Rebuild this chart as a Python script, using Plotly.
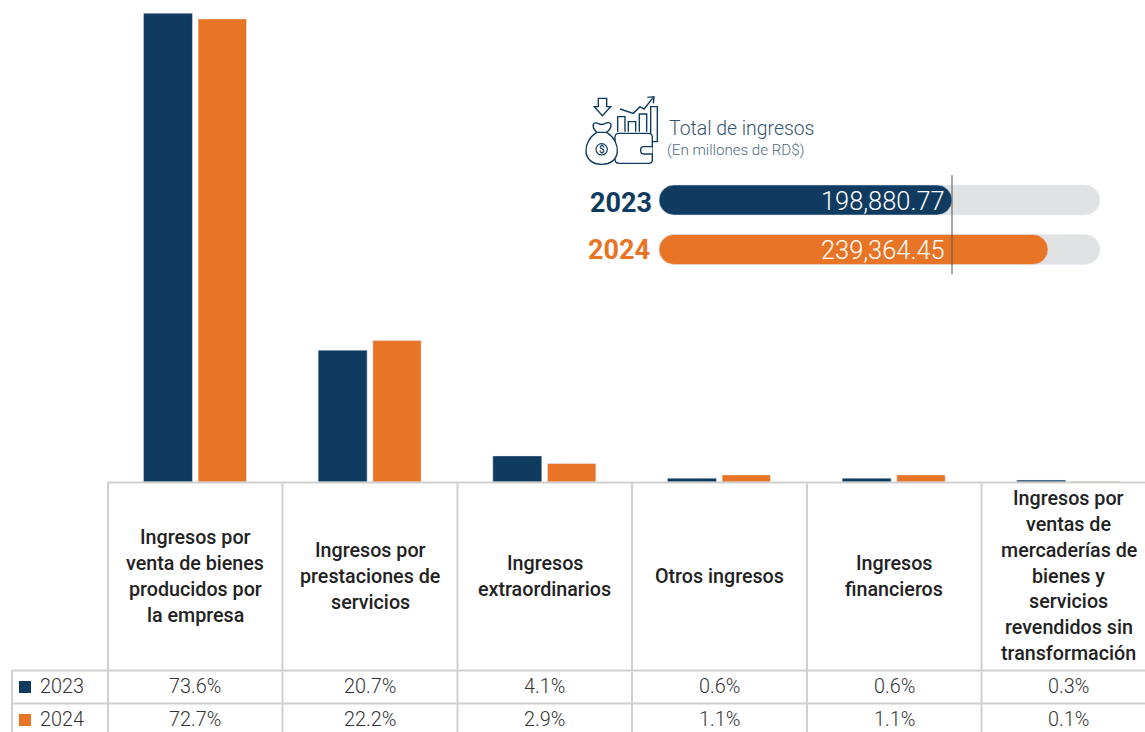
import plotly.graph_objects as go

W, H = 1145, 732
categories = [
    "Ingresos por<br>venta de bienes<br>producidos por<br>la empresa",
    "Ingresos por<br>prestaciones de<br>servicios",
    "Ingresos<br>extraordinarios",
    "Otros ingresos",
    "Ingresos<br>financieros",
    "Ingresos por<br>ventas de<br>mercaderías de<br>bienes y<br>servicios<br>revendidos sin<br>transformación",
]
values_2023 = [73.6, 20.7, 4.1, 0.6, 0.6, 0.3]
values_2024 = [72.7, 22.2, 2.9, 1.1, 1.1, 0.1]
years = ["2023", "2024"]
totals = [198880.77, 239364.45]
total_axis_min = 75320
total_axis_max = 261290

NAVY = "#0F3B60"
ORANGE = "#E87425"
TRACK = "#E1E2E4"
GRID = "#D0D0D0"
FONT = "Roboto"


def X(p):
    return p / W


def Y(p):
    return 1 - p / H


fig = go.Figure()
idx = list(range(6))
fig.add_bar(x=idx, y=values_2023, name="2023", marker_color=NAVY, width=0.2806, offset=-0.297, xaxis="x", yaxis="y")
fig.add_bar(x=idx, y=values_2024, name="2024", marker_color=ORANGE, width=0.277, offset=0.016, xaxis="x", yaxis="y")

# Pill bars on their own axes
common = dict(orientation="h", xaxis="x2", yaxis="y2", width=30 / 49.5, base=total_axis_min)
fig.add_bar(y=years, x=[total_axis_max - total_axis_min] * 2, marker=dict(color=TRACK, cornerradius=15), **common)
fig.add_bar(y=years, x=[t - total_axis_min for t in totals], marker=dict(color=[NAVY, ORANGE], cornerradius=15), **common)

shapes = []


def line(x0, y0, x1, y1, color=GRID, width=2):
    shapes.append(dict(type="line", xref="paper", yref="paper", x0=X(x0), y0=Y(y0), x1=X(x1), y1=Y(y1),
                       line=dict(color=color, width=width)))


# Table grid
col_x = [108, 282.5, 457.5, 632, 807, 981.5]
line(108, 482.5, 1145, 482.5)
line(12, 670.5, 1145, 670.5)
line(12, 703.5, 1145, 703.5)
line(12, 670, 12, 732)
for cx in col_x:
    line(cx, 482, cx, 732)

# Legend keys
for top, c in ((681, NAVY), (714, ORANGE)):
    shapes.append(dict(type="rect", xref="paper", yref="paper", x0=X(19), x1=X(31), y0=Y(top), y1=Y(top + 12),
                       fillcolor=c, line_width=0))

# Marker line at the 2023 total
shapes.append(dict(type="line", xref="x2", yref="paper", x0=totals[0], x1=totals[0], y0=Y(175), y1=Y(274),
                   line=dict(color="#555555", width=1)))


# Icon, in reference zoom coordinates
def zx(v):
    return X(570 + v / 3)


def zy(v):
    return Y(85 + v / 3)


def poly(points, close=False, fill=None, width=1.4):
    s = "M " + " L ".join(f"{zx(a):.5f},{zy(b):.5f}" for a, b in points)
    if close:
        s += " Z"
    shapes.append(dict(type="path", xref="paper", yref="paper", path=s,
                       line=dict(color=NAVY, width=width), fillcolor=fill or "rgba(0,0,0,0)"))


def curve(cmds, fill=None, width=1.4):
    out = []
    for c in cmds:
        if isinstance(c, str):
            out.append(c)
        else:
            out.append(f"{zx(c[0]):.5f},{zy(c[1]):.5f}")
    shapes.append(dict(type="path", xref="paper", yref="paper", path=" ".join(out),
                       line=dict(color=NAVY, width=width), fillcolor=fill or "rgba(0,0,0,0)"))


poly([(85, 40), (110, 40), (110, 65), (122, 65), (97, 92), (73, 65), (85, 65)], close=True)
for x0, y0, x1, y1 in [(143, 95, 165, 140), (175, 110, 197, 140), (208, 87, 230, 140), (242, 65, 262, 170)]:
    poly([(x0, y1), (x0, y0), (x1, y0), (x1, y1)], close=x0 == 242)
poly([(150, 72), (190, 85), (210, 65), (222, 72), (250, 37)])
poly([(232, 37), (252, 35), (250, 55)])
# wallet
curve(["M", (147, 145), "L", (235, 145), "Q", (247, 145), (247, 157), "L", (247, 225), "Q", (247, 235), (235, 235),
       "L", (147, 235), "Q", (135, 235), (135, 223), "L", (135, 157), "Q", (135, 145), (147, 145), "Z"],
      fill="#FFFFFF")
curve(["M", (247, 185), "L", (220, 185), "Q", (212, 185), (212, 196), "Q", (212, 207), (220, 207), "L", (247, 207)],
      fill="#FFFFFF")
# bag
curve(["M", (80, 142), "C", (35, 170), (35, 238), (95, 238), "C", (155, 238), (155, 170), (110, 142), "Z"], fill="#FFFFFF")
curve(["M", (80, 142), "C", (60, 120), (72, 108), (85, 116), "Q", (97, 122), (108, 114), "C", (125, 108), (130, 125), (110, 142), "Z"],
      fill="#FFFFFF")
shapes.append(dict(type="circle", xref="paper", yref="paper", x0=zx(78), x1=zx(112), y0=zy(176), y1=zy(210),
                   line=dict(color=NAVY, width=1.2)))

annotations = []


def text(x, y, s, size, color, anchor="center", weight=400, xref="paper"):
    annotations.append(dict(x=X(x) if xref == "paper" else x, y=Y(y), xref=xref, yref="paper", text=s,
                            showarrow=False, xanchor=anchor, yanchor="middle",
                            font=dict(family=FONT, size=size, color=color, weight=weight), borderpad=0, borderwidth=0))


# Category labels, one annotation per line for exact leading
for i, cat in enumerate(categories):
    parts = cat.split("<br>")
    start = 576.3 - (len(parts) - 1) * 13
    for j, part in enumerate(parts):
        text(i, start + j * 25.9, part, 19.7, "#222222", weight=500, xref="x")

# Table values
for row_y, year, vals in ((686.4, years[0], values_2023), (719.4, years[1], values_2024)):
    text(40, row_y, year, 19.8, "#333333", anchor="left", weight=300)
    for i, v in enumerate(vals):
        text(i, row_y, f"{v:.1f}%", 19.8, "#333333", weight=300, xref="x")

# Totals panel
text(601.7, 149, "$", 10, NAVY, weight=500)
text(669, 128.5, "Total de ingresos", 19.4, "#33536F", anchor="left", weight=300)
text(667, 150, "(En millones de RD$)", 15.1, "#4F6A84", anchor="left", weight=300)
text(590, 202.5, years[0], 27, NAVY, anchor="left", weight=700)
text(588, 249.5, years[1], 27, ORANGE, anchor="left", weight=700)
text(945, 200.5, f"{totals[0]:,.2f}", 25.4, "#FFFFFF", anchor="right", weight=300)
text(945, 249.5, f"{totals[1]:,.2f}", 25.4, "#FFFFFF", anchor="right", weight=300)

fig.update_layout(
    width=W, height=H, margin=dict(l=0, r=0, t=0, b=0),
    paper_bgcolor="white", plot_bgcolor="rgba(0,0,0,0)",
    barmode="overlay", showlegend=False, hovermode=False,
    font=dict(family=FONT),
    xaxis=dict(domain=[108 / W, 1], range=[-0.5, 5.437], visible=False, fixedrange=True),
    yaxis=dict(domain=[1 - 482 / H, 1], range=[0, 482 / 6.37], visible=False, fixedrange=True),
    xaxis2=dict(domain=[659 / W, 1100 / W], range=[total_axis_min, total_axis_max], visible=False, anchor="y2", fixedrange=True),
    yaxis2=dict(domain=[1 - 274.25 / H, 1 - 175.25 / H], type="category", categoryorder="array", categoryarray=years,
                range=[1.5, -0.5], visible=False, anchor="x2", fixedrange=True),
    shapes=shapes, annotations=annotations,
)
fig.write_html("out.html", config={"displayModeBar": False},
               post_script="document.body.style.margin='0';document.body.style.overflow='hidden';")
